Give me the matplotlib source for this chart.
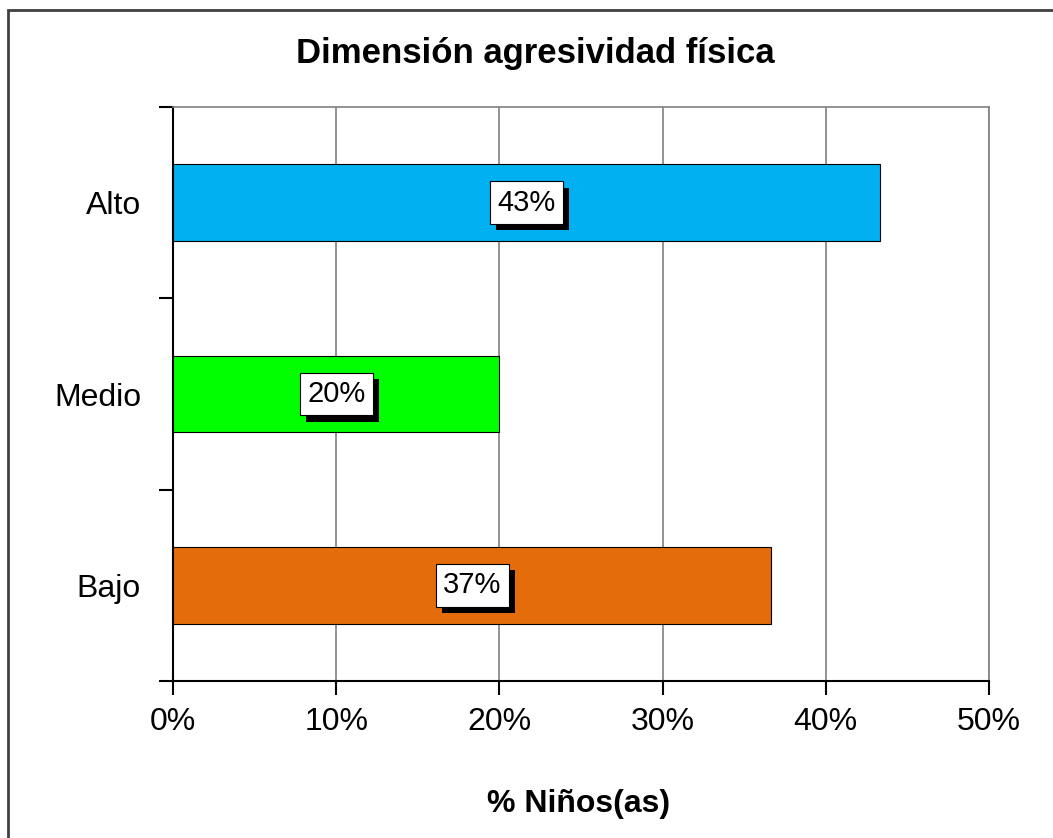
import matplotlib.pyplot as plt
import matplotlib.patches as mpatches
import matplotlib.patheffects as pe
from matplotlib.ticker import FuncFormatter, MultipleLocator

categorias = ['Bajo', 'Medio', 'Alto']
porcentajes = [36.67, 20.0, 43.33]
colores = ['#E46C0A', '#00FF00', '#00B0F0']
etiquetas = ['37%', '20%', '43%']

plt.rcParams['font.family'] = ['Liberation Sans', 'DejaVu Sans']

fig = plt.figure(figsize=(10.53, 8.38), dpi=100, facecolor='w')
ax = fig.add_axes([173 / 1053, 1 - 681 / 838, (989 - 173) / 1053, (681 - 107) / 838])

# marco exterior del grafico (recortado a la derecha y abajo)
marco = mpatches.Rectangle((7.5 / 1053, -0.05), 1.2, 1 - 10 / 838 + 0.05,
                           transform=fig.transFigure, fill=False,
                           edgecolor='#404040', linewidth=2.0)
fig.patches.append(marco)

pos = list(range(len(categorias)))
ax.barh(pos, porcentajes, height=0.4, color=colores, edgecolor='black',
        linewidth=0.8, zorder=3)

for p, v, t in zip(pos, porcentajes, etiquetas):
    txt = ax.text(v / 2, p, t, ha='center', va='center', fontsize=21, zorder=5,
                  bbox=dict(boxstyle='square,pad=0.25', facecolor='white',
                            edgecolor='black', linewidth=0.8))
    txt.get_bbox_patch().set_path_effects(
        [pe.SimplePatchShadow(offset=(4.5, -4.5), shadow_rgbFace='black', alpha=1.0),
         pe.Normal()])

ax.set_xlim(0, 50)
ax.set_ylim(-0.5, 2.5)
ax.xaxis.set_major_locator(MultipleLocator(10))
ax.xaxis.set_major_formatter(FuncFormatter(lambda x, _: '%d%%' % x))
ax.set_yticks([-0.5, 0.5, 1.5, 2.5])
ax.set_yticklabels([])
ax.set_yticks(pos, minor=True)
ax.set_yticklabels(categorias, minor=True)
ax.tick_params(axis='y', which='minor', length=0, pad=23, labelsize=23)
ax.tick_params(axis='y', which='major', length=10, width=1.5, direction='out')
ax.tick_params(axis='x', length=10, width=1.5, direction='out', labelsize=23, pad=9)

ax.xaxis.grid(True, color='#808080', linewidth=1.2, zorder=0)
ax.set_axisbelow(True)
for s in ['top', 'right']:
    ax.spines[s].set_color('#808080')
    ax.spines[s].set_linewidth(1.2)
for s in ['left', 'bottom']:
    ax.spines[s].set_color('black')
    ax.spines[s].set_linewidth(1.5)

fig.text(535 / 1053, 1 - 54 / 838, 'Dimensión agresividad física', ha='center', va='center',
         fontsize=25, fontweight='bold')
fig.text(579 / 1053, 1 - 804 / 838, '% Niños(as)', ha='center', va='center',
         fontsize=23, fontweight='bold')

fig.savefig('out.png', dpi=100, facecolor='w')
